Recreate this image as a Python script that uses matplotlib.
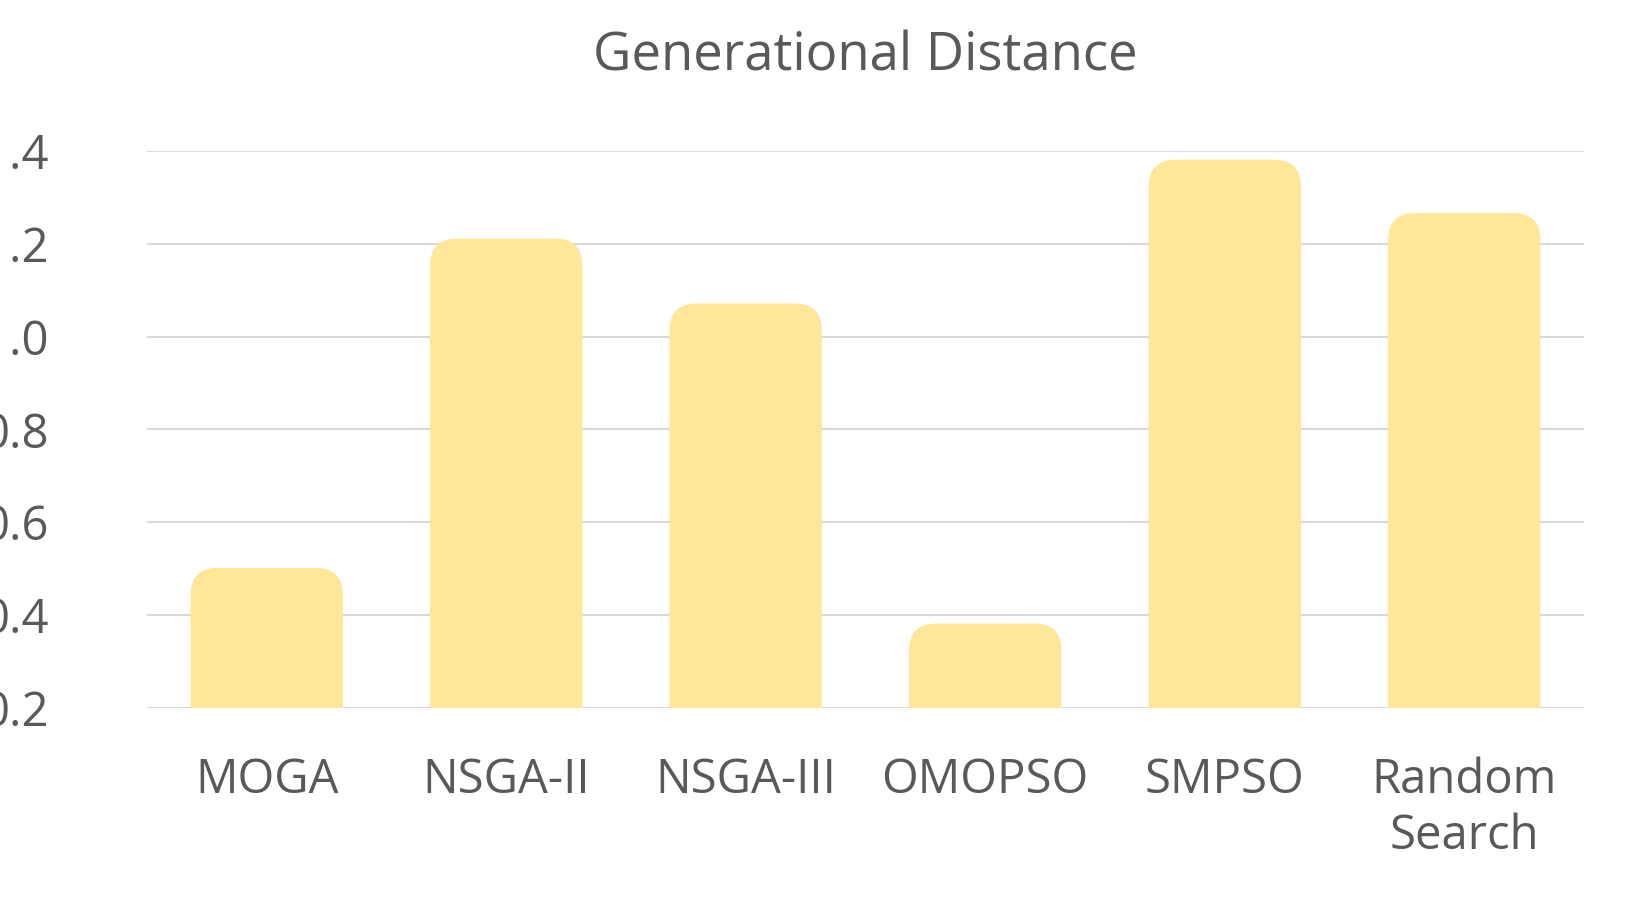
import matplotlib.pyplot as plt
from matplotlib.patches import FancyBboxPatch

plt.rcParams['font.family'] = ['Open Sans', 'DejaVu Sans']

methods = ['MOGA', 'NSGA-II', 'NSGA-III', 'OMOPSO', 'SMPSO', 'Random\nSearch']
gd = [0.50, 1.21, 1.07, 0.38, 1.38, 1.265]
yticks = [0.2, 0.4, 0.6, 0.8, 1.0, 1.2, 1.4]

fig = plt.figure(figsize=(16.33, 9.05), dpi=100)
ax = fig.add_axes([0.09, 0.218, 0.88, 0.615])
ax.set_xlim(-0.5, 5.5)
ax.set_ylim(0.2, 1.4)

width = 0.63
# data-units per pixel ratio so the corners look round
aspect = (1.2 / (0.615 * 905)) / (6 / (0.88 * 1633))
for i, v in enumerate(gd):
    p = FancyBboxPatch((i - width / 2, 0), width, v,
                       boxstyle='round,pad=0,rounding_size=0.11',
                       mutation_aspect=aspect,
                       facecolor='#FFE699', edgecolor='#FFE699', zorder=3)
    ax.add_patch(p)

ax.set_yticks(yticks)
ax.set_yticklabels(['%.1f' % t for t in yticks])
ax.set_xticks(range(len(methods)))
ax.set_xticklabels(methods, linespacing=1.25)
ax.tick_params(length=0, labelsize=34, colors='#595959')
ax.tick_params(axis='x', pad=35)
ax.tick_params(axis='y', pad=118)
for lbl in ax.get_yticklabels():
    lbl.set_horizontalalignment('left')
ax.grid(axis='y', color='#D9D9D9', linewidth=1.5, zorder=0)
for s in ax.spines.values():
    s.set_visible(False)

ax.set_title('Generational Distance', fontsize=38, color='#595959', pad=58)
fig.savefig('out.png')
